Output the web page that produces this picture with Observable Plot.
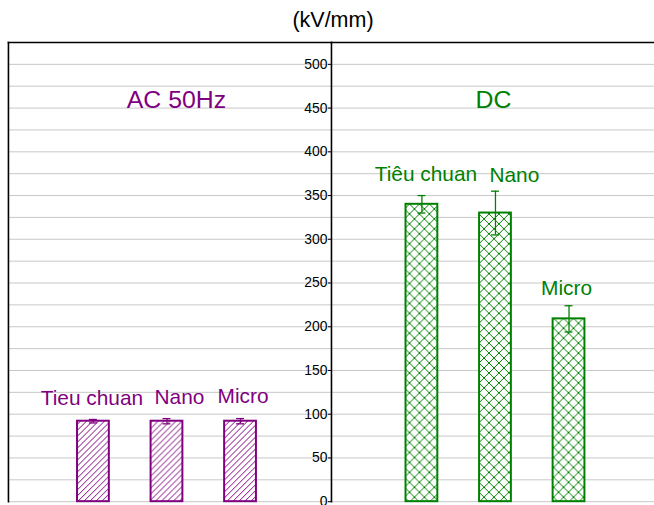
<!DOCTYPE html>
<html>
<head>
<meta charset="utf-8">
<script src="https://cdn.jsdelivr.net/npm/d3@7"></script>
<script src="https://cdn.jsdelivr.net/npm/@observablehq/plot@0.6"></script>
<style>
  html, body { margin: 0; padding: 0; background: #fff; overflow: hidden; width: 654px; height: 505px; }
  #title { width: 666px; height: 40px; line-height: 40px; text-align: center;
           font-family: "Liberation Sans", Arial, sans-serif; font-size: 21.5px; color: #000; }
</style>
</head>
<body>
<div id="title">(kV/mm)</div>
<div id="chart"></div>
<script>
// ---- data ----
const groups = ["AC 50Hz", "DC"];
const categories = ["Tieu chuan", "Nano", "Micro"];
const labelsAC = ["Tieu chuan", "Nano", "Micro"];
const labelsDC = ["Tiêu chuan", "Nano", "Micro"];
const valuesAC = [92, 92, 92];
const errorsAC = [2, 3, 3];
const valuesDC = [340, 330, 209];
const errorsDC = [10, 25, 15];
const yTicks = [0, 50, 100, 150, 200, 250, 300, 350, 400, 450, 500];
const gridValues = [0, 25, 50, 75, 100, 125, 150, 175, 200, 225, 250, 275, 300, 325, 350, 375, 400, 425, 450, 475, 500];

// ---- styles ----
const colors = ["#800080", "#008000"];
const fills = ["url(#hatchAC)", "url(#hatchDC)"];
const font = '"Liberation Sans", Arial, sans-serif';
const groupShift = {"AC 50Hz": -3.5, "DC": 2};
const labelNudgeX = {"AC 50Hz": [-1.5, 12.5, 2.5], "DC": [4, 19, -2.5]};
const labelNudgeY = {"AC 50Hz": [0, 0, -1], "DC": [0, 5, 3]};
const groupNudge = {"AC 50Hz": 6.5, "DC": 0.5};

const rows = [];
groups.forEach((g, gi) => {
  const vals = gi ? valuesDC : valuesAC;
  const errs = gi ? errorsDC : errorsAC;
  const labs = gi ? labelsDC : labelsAC;
  categories.forEach((c, i) => rows.push({group: g, cat: c, label: labs[i], value: vals[i], err: errs[i], idx: i}));
});

const groupMarks = groups.flatMap((g, gi) => {
  const data = rows.filter(r => r.group === g);
  const dx = groupShift[g];
  return [
    Plot.barY(data, {fx: "group", x: "cat", y: "value", fill: fills[gi], stroke: "group", strokeWidth: 2, dx}),
    Plot.ruleX(data, {fx: "group", x: "cat", y1: d => d.value - d.err, y2: d => d.value + d.err,
                      stroke: "group", strokeWidth: 1.3, dx}),
    Plot.tickY(data, {fx: "group", x: "cat", y: d => d.value + d.err, stroke: "group", strokeWidth: 1.3,
                      insetLeft: 12, insetRight: 12, dx}),
    Plot.tickY(data, {fx: "group", x: "cat", y: d => d.value - d.err, stroke: "group", strokeWidth: 1.3,
                      insetLeft: 12, insetRight: 12, dx}),
    ...data.map(r => Plot.text([r], {
      fx: "group", x: "cat", y: d => d.value + d.err, text: "label", fill: "group", fontSize: 21,
      dx: dx + labelNudgeX[g][r.idx], dy: -21 + labelNudgeY[g][r.idx], lineAnchor: "middle"
    })),
    Plot.text([g], {fx: d => d, text: d => d, frameAnchor: "top", dy: 58, dx: groupNudge[g],
                    fill: d => d, fontSize: 25, lineAnchor: "middle"})
  ];
});

const plot = Plot.plot({
  width: 658,
  height: 465,
  marginTop: 2,
  marginBottom: 1,
  marginLeft: 8,
  marginRight: 0,
  style: {fontFamily: font, background: "#fff", overflow: "visible"},
  fx: {domain: groups, padding: 0, axis: null, label: null},
  x: {domain: categories, paddingInner: 0.57, paddingOuter: 0.966, align: 0.5, axis: null, label: null},
  y: {domain: [0, 525], label: null},
  color: {domain: groups, range: colors},
  marks: [
    Plot.ruleY(gridValues, {y: d => d, stroke: "#c8c8c8", strokeWidth: 1}),
    Plot.frame({anchor: "top", stroke: "#000", strokeWidth: 1.6}),
    Plot.frame({anchor: "left", stroke: "#000", strokeWidth: 1.6}),
    Plot.axisY({anchor: "left", facetAnchor: "right", ticks: yTicks, tickSize: 3, tickPadding: 1,
                fontSize: 14, label: null, stroke: "#000", fill: "#000",
                marginTop: 2, marginBottom: 1, marginLeft: 8, marginRight: 0}),
    ...groupMarks
  ]
});

// hatch patterns
const defs = d3.select(plot).insert("defs", ":first-child");
const pAC = defs.append("pattern").attr("id", "hatchAC").attr("patternUnits", "userSpaceOnUse")
  .attr("width", 6).attr("height", 6);
pAC.append("rect").attr("width", 6).attr("height", 6).attr("fill", "#fff");
pAC.append("path").attr("d", "M-1,1 L1,-1 M0,6 L6,0 M5,7 L7,5")
  .attr("stroke", colors[0]).attr("stroke-width", 1).attr("fill", "none");
const pDC = defs.append("pattern").attr("id", "hatchDC").attr("patternUnits", "userSpaceOnUse")
  .attr("width", 10).attr("height", 10);
pDC.append("rect").attr("width", 10).attr("height", 10).attr("fill", "#fff");
pDC.append("path").attr("d", "M-1,-1 L11,11 M11,-1 L-1,11")
  .attr("stroke", colors[1]).attr("stroke-width", 1).attr("fill", "none");

document.getElementById("chart").appendChild(plot);
</script>
</body>
</html>
